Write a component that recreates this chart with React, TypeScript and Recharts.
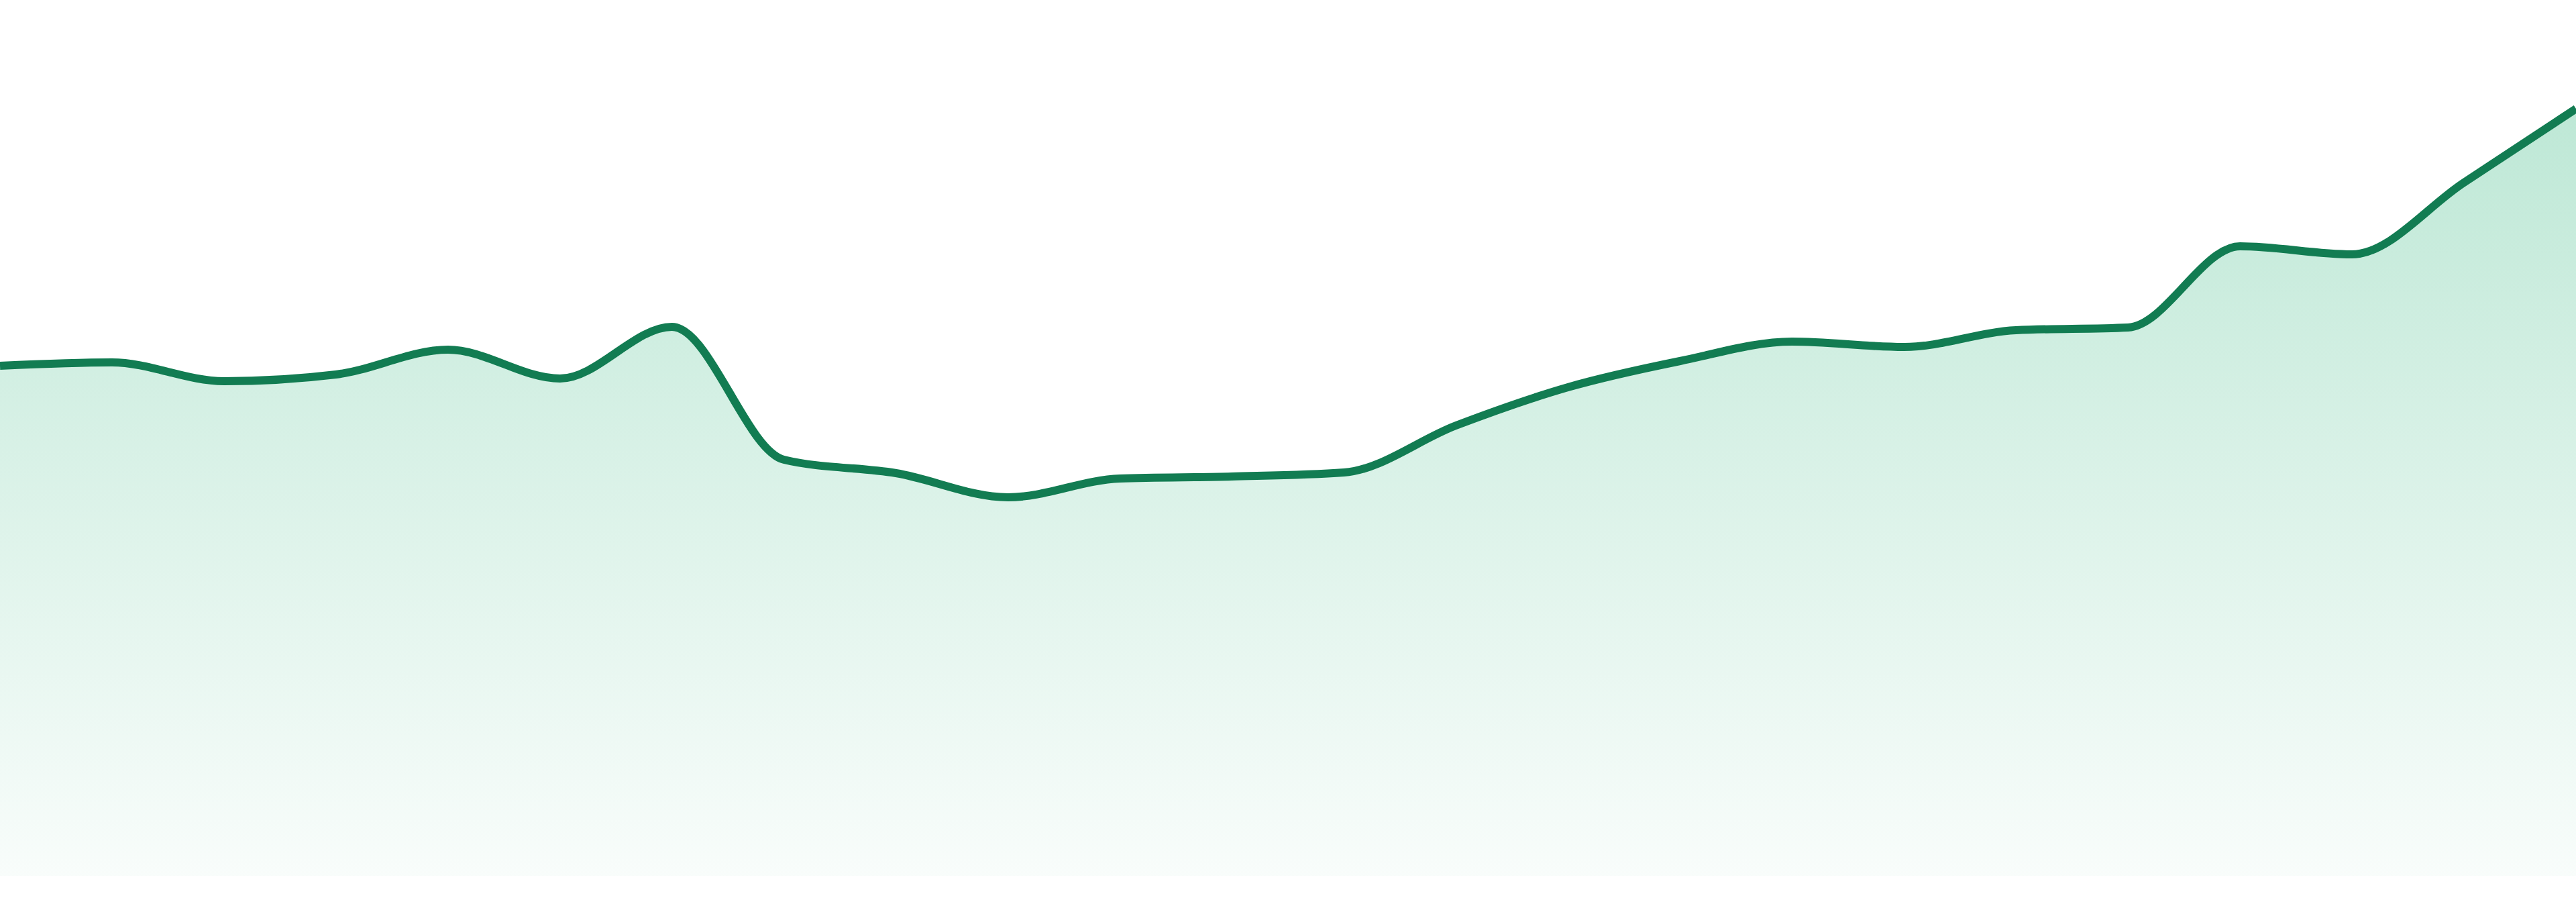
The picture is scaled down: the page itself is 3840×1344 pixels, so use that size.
import { Area, AreaChart, XAxis, YAxis } from 'recharts'

// 24 samples
const labels = [
  'P01', 'P02', 'P03', 'P04', 'P05', 'P06', 'P07', 'P08',
  'P09', 'P10', 'P11', 'P12', 'P13', 'P14', 'P15', 'P16',
  'P17', 'P18', 'P19', 'P20', 'P21', 'P22', 'P23', 'P24',
]
const values = [
  76.0, 76.5, 73.7, 74.7, 78.4, 74.1, 81.8, 62.0,
  60.0, 56.4, 59.2, 59.5, 60.1, 67.1, 72.8, 76.7,
  79.6, 78.8, 81.3, 81.7, 93.8, 92.6, 103.3, 114.3,
]
const yDomain = [0, 130]

const LINE = '#127c52'
const FILL = '#26b276'

const data = labels.map((name, i) => ({ name, value: values[i] }))

export default function App() {
  return (
    <div style={{ position: 'fixed', left: 0, top: 0, width: 3840, height: 1344, background: '#fff' }}>
      <AreaChart width={3840} height={1344} data={data} margin={{ top: 5, right: 0, bottom: 39, left: 0 }}>
        <defs>
          <linearGradient id="areaFill" x1="0" y1="0" x2="0" y2="1">
            <stop offset="0%" stopColor={FILL} stopOpacity={0.3} />
            <stop offset="100%" stopColor={FILL} stopOpacity={0.03} />
          </linearGradient>
        </defs>
        <XAxis dataKey="name" hide />
        <YAxis domain={yDomain} allowDataOverflow hide />
        <Area
          type="monotone"
          dataKey="value"
          stroke={LINE}
          strokeWidth={12}
          fill="url(#areaFill)"
          fillOpacity={1}
          dot={false}
          activeDot={false}
          isAnimationActive={false}
        />
      </AreaChart>
    </div>
  )
}
